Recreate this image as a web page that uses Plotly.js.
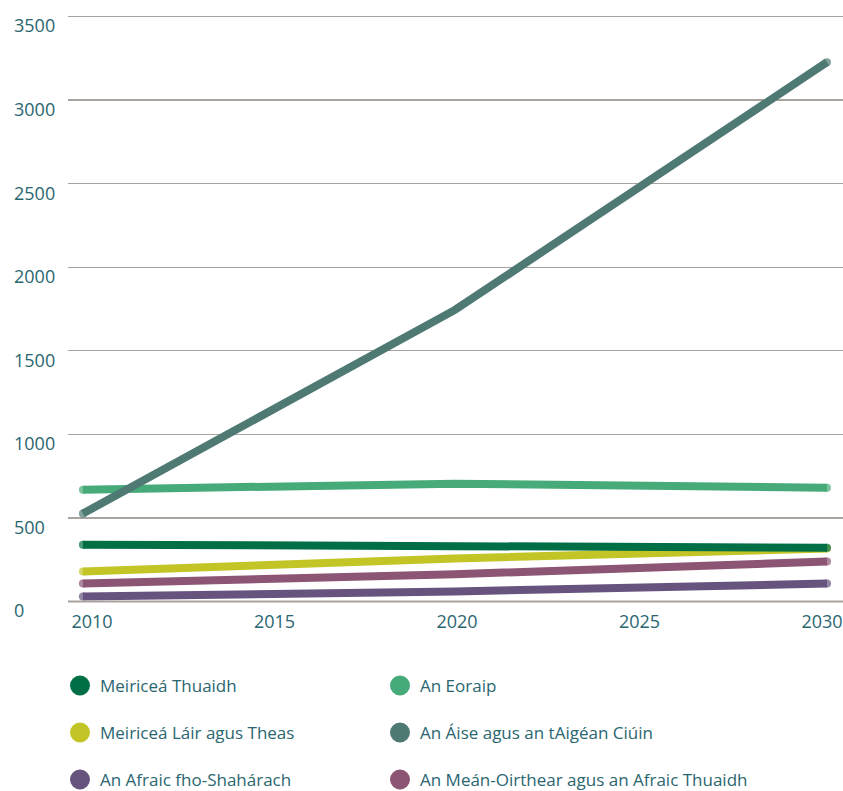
<!DOCTYPE html>
<html>
<head>
<meta charset="utf-8">
<script src="https://cdn.plot.ly/plotly-3.0.1.min.js"></script>
<style>html,body{margin:0;padding:0;background:#fff;}#chart{width:843px;height:791px;}</style>
</head>
<body>
<div id="chart"></div>
<script>
const years = [2010, 2020, 2030];
const seriesNames = [
  "Meiriceá Thuaidh",
  "An Eoraip",
  "Meiriceá Láir agus Theas",
  "An Áise agus an tAigéan Ciúin",
  "An Afraic fho-Shahárach",
  "An Meán-Oirthear agus an Afraic Thuaidh"
];
const northAmerica = [340, 335, 322];
const europe = [669, 705, 681];
const centralSouthAmerica = [179, 257, 317];
const asiaPacific = [526, 1744, 3226];
const subSaharanAfrica = [30, 60, 107];
const middleEastNorthAfrica = [107, 163, 239];
const yTicks = [0, 500, 1000, 1500, 2000, 2500, 3000, 3500];
const xTicks = [2010, 2015, 2020, 2025, 2030];

const colors = ["#006f45", "#46ab79", "#c2c525", "#4f7a74", "#66547f", "#8c5573"];
const values = [northAmerica, europe, centralSouthAmerica, asiaPacific, subSaharanAfrica, middleEastNorthAfrica];
const drawOrder = [4, 5, 2, 0, 1, 3];
const legendIds = ["legend", "legend2", "legend3", "legend4", "legend5", "legend6"];
// legend grid: column and row of each entry
const legendCol = [0, 1, 0, 1, 0, 1];
const legendRow = [0, 0, 1, 1, 2, 2];

const traces = [];
drawOrder.forEach(i => {
  traces.push({
    x: years, y: values[i], type: "scatter", mode: "lines+markers",
    line: {color: colors[i], width: 8},
    marker: {color: colors[i], size: years.map((_, k) => (k === 0 || k === years.length - 1) ? 8 : 0),
             line: {width: 0, color: colors[i]}},
    showlegend: false, hoverinfo: "skip"
  });
});
seriesNames.forEach((n, i) => {
  traces.push({
    x: [null], y: [null], xaxis: "x2", type: "scatter", mode: "markers", name: n,
    marker: {color: colors[i], size: 16, line: {color: colors[i], width: 4}},
    legend: legendIds[i], showlegend: true
  });
});

const textColor = "#2a6670";
const gridColor = "#a9a39f";
const colX = [60, 380];
const rowY = [686, 733, 780];
const annotations = yTicks.map(v => ({
  xref: "paper", yref: "y", x: -56 / 775, y: v, xanchor: "left", yanchor: "middle",
  yshift: -9, text: String(v), showarrow: false,
  font: {family: "Open Sans", size: 18, color: textColor}
}));
const layout = {
  width: 843, height: 791,
  margin: {l: 68, r: 0, t: 14.7, b: 186.5, autoexpand: false},
  paper_bgcolor: "#fff", plot_bgcolor: "#fff",
  font: {family: "Open Sans", size: 17, color: textColor},
  xaxis: {
    range: [2009.6, 2030.43], tickvals: xTicks, ticks: "", showgrid: false,
    zeroline: false, showline: false, showticklabels: false
  },
  xaxis2: {
    overlaying: "x", anchor: "y", side: "bottom",
    range: [2009.342, 2030.575], tickvals: xTicks, ticks: "", showgrid: false,
    zeroline: false, showline: false, ticklabelstandoff: 5,
    tickfont: {family: "Open Sans", size: 18, color: textColor}
  },
  yaxis: {
    range: [-15, 3508], tickvals: yTicks, ticks: "", showgrid: true,
    gridcolor: gridColor, gridwidth: 1.2,
    zeroline: true, zerolinecolor: gridColor, zerolinewidth: 1.6, showline: false,
    showticklabels: false
  },
  shapes: [{
    type: "line", xref: "paper", yref: "y", x0: 0, x1: 1, y0: 0, y1: 0,
    line: {color: gridColor, width: 1.8}, layer: "above"
  }],
  annotations: annotations,
  showlegend: true
};
legendIds.forEach((id, i) => {
  layout[id] = {
    orientation: "v", xref: "container", yref: "container",
    xanchor: "left", yanchor: "middle",
    x: colX[legendCol[i]] / 843, y: 1 - rowY[legendRow[i]] / 791,
    font: {family: "Open Sans", size: 17, color: textColor},
    bgcolor: "rgba(0,0,0,0)", itemclick: false
  };
});
Plotly.newPlot("chart", traces, layout, {displayModeBar: false, staticPlot: true});
</script>
</body>
</html>
